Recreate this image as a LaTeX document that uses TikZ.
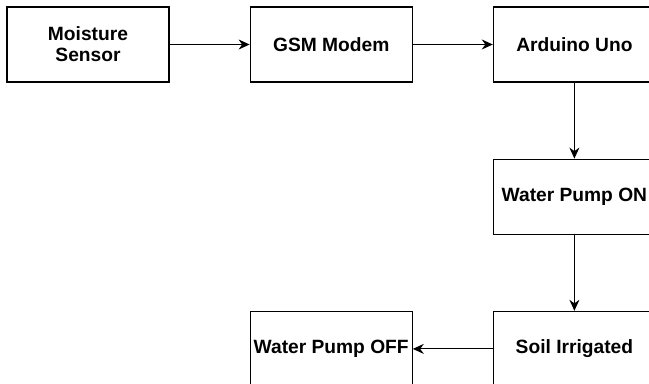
\documentclass[tikz,border=0pt]{standalone}
\usepackage{fontspec}
\setmainfont{Liberation Sans}
\usetikzlibrary{positioning}
\usetikzlibrary{arrows.meta}

\begin{document}
\begin{tikzpicture}[node distance=40pt and 38pt,>={Stealth[length=5.5pt,width=5pt,inset=1.8pt]},
	blk/.style={draw,line width=0.6pt,minimum width=81pt,minimum height=37.5pt,inner xsep=0.5pt,
		align=center,font=\fontsize{9.6}{10.5}\selectfont\bfseries}]
		\useasboundingbox (0,0) rectangle (324.5pt,-192pt);
		\node[blk] (ms) at (44pt,-22.25pt) {Moisture\\Sensor};
		\node[blk] (gsm) [right=40pt of ms] {GSM Modem};
		\draw[->,line width=0.6pt]  (ms) -- (gsm);
		\node[blk] (ard) [right=40pt of gsm] {Arduino Uno};
		\draw[->,line width=0.6pt]  (gsm) -- (ard);
		\node[blk] (pon) [below=38pt of ard] {Water Pump ON};
		\draw[->,line width=0.6pt]  (ard) -- (pon);
		\node[blk] (soil) [below=38pt of pon] {Soil Irrigated};
		\draw[->,line width=0.6pt]  (pon) -- (soil);
		\node[blk] (poff) [left=40pt of soil] {Water Pump OFF};
		\draw[->,line width=0.6pt]  (soil) -- (poff);
	\end{tikzpicture}
\end{document}
